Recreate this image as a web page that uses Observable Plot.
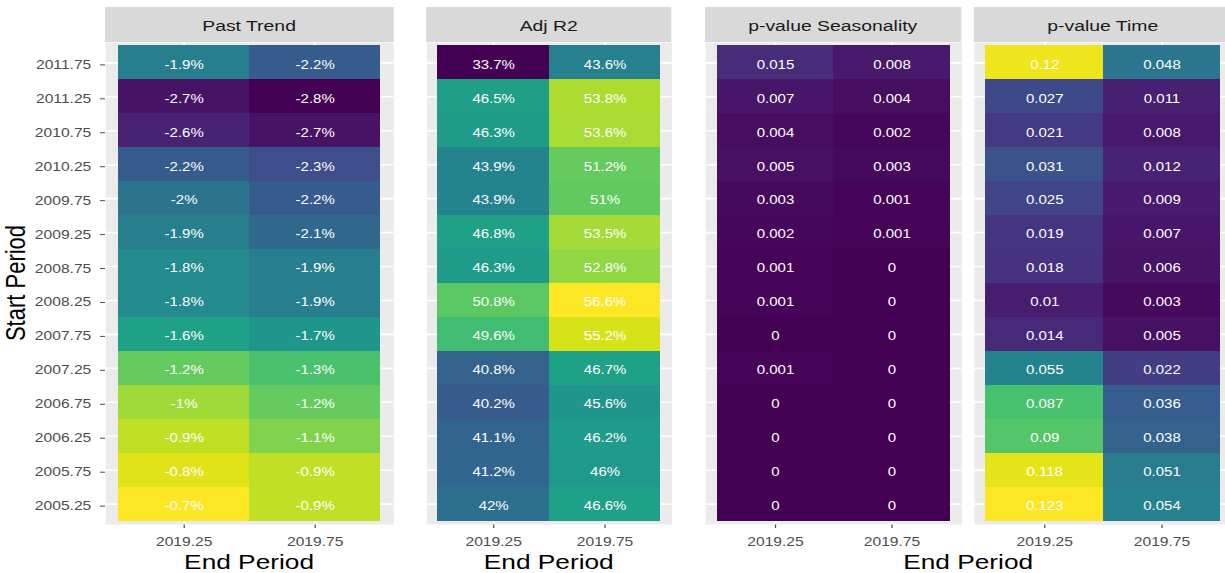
<!DOCTYPE html>
<html><head><meta charset="utf-8">
<script src="https://cdn.jsdelivr.net/npm/d3@7"></script>
<script src="https://cdn.jsdelivr.net/npm/@observablehq/plot@0.6"></script>
<style>
html,body{margin:0;padding:0;background:#fff;overflow:hidden;width:1225px;height:573px;}
#stage{position:relative;width:980px;height:573px;transform:scaleX(1.25);transform-origin:0 0;font-family:"Liberation Sans",Arial,Helvetica,sans-serif;overflow:hidden;}
.panel{position:absolute;top:0;}
.strip{position:absolute;top:7px;height:35px;background:#d9d9d9;color:#1a1a1a;font-size:15.5px;display:flex;align-items:center;justify-content:center;box-sizing:border-box;padding-top:3px;white-space:nowrap;overflow:hidden;}
.title{position:absolute;color:#000;font-size:21px;line-height:1;white-space:nowrap;}
.ytitle{position:absolute;color:#000;font-size:22px;line-height:1;white-space:nowrap;writing-mode:vertical-rl;}
</style></head><body><div id="stage"></div>
<script>
// ---- data ----
const startPeriods = ["2011.75","2011.25","2010.75","2010.25","2009.75","2009.25","2008.75","2008.25","2007.75","2007.25","2006.75","2006.25","2005.75","2005.25"];
const endPeriods = ["2019.25","2019.75"];

const pastTrend_2019_25 = [-1.9,-2.7,-2.6,-2.2,-2,-1.9,-1.8,-1.8,-1.6,-1.2,-1,-0.9,-0.8,-0.7];
const pastTrend_2019_75 = [-2.2,-2.8,-2.7,-2.3,-2.2,-2.1,-1.9,-1.9,-1.7,-1.3,-1.2,-1.1,-0.9,-0.9];

const adjR2_2019_25 = [33.7,46.5,46.3,43.9,43.9,46.8,46.3,50.8,49.6,40.8,40.2,41.1,41.2,42];
const adjR2_2019_75 = [43.6,53.8,53.6,51.2,51,53.5,52.8,56.6,55.2,46.7,45.6,46.2,46,46.6];

const pSeason_2019_25 = [0.015,0.007,0.004,0.005,0.003,0.002,0.001,0.001,0,0.001,0,0,0,0];
const pSeason_2019_75 = [0.008,0.004,0.002,0.003,0.001,0.001,0,0,0,0,0,0,0,0];

const pTime_2019_25 = [0.12,0.027,0.021,0.031,0.025,0.019,0.018,0.01,0.014,0.055,0.087,0.09,0.118,0.123];
const pTime_2019_75 = [0.048,0.011,0.008,0.012,0.009,0.007,0.006,0.003,0.005,0.022,0.036,0.038,0.051,0.054];

const panelTitles = ["Past Trend","Adj R2","p-value Seasonality","p-value Time"];

// ---- build ----
function table(a, b) {
  const out = [];
  startPeriods.forEach((s, i) => {
    out.push({start: s, end: endPeriods[0], value: a[i]});
    out.push({start: s, end: endPeriods[1], value: b[i]});
  });
  return out;
}
const pctFmt = v => `${v}%`;
const numFmt = v => `${v}`;
const pExtent = d3.extent([...pSeason_2019_25, ...pSeason_2019_75, ...pTime_2019_25, ...pTime_2019_75]);

const panels = [
  {title: panelTitles[0], data: table(pastTrend_2019_25, pastTrend_2019_75), fmt: pctFmt,
   domain: d3.extent([...pastTrend_2019_25, ...pastTrend_2019_75]), left: 84, right: 314.5, yAxis: true},
  {title: panelTitles[1], data: table(adjR2_2019_25, adjR2_2019_75), fmt: pctFmt,
   domain: d3.extent([...adjR2_2019_25, ...adjR2_2019_75]), left: 341, right: 537, yAxis: false},
  {title: panelTitles[2], data: table(pSeason_2019_25, pSeason_2019_75), fmt: numFmt,
   domain: pExtent, left: 563.7, right: 768.7, yAxis: false},
  {title: panelTitles[3], data: table(pTime_2019_25, pTime_2019_75), fmt: numFmt,
   domain: pExtent, left: 779, right: 985.4, yAxis: false}
];

const stage = document.getElementById("stage");
const FONT = '"Liberation Sans", Arial, Helvetica, sans-serif';
const hasAxisMarks = typeof Plot.axisY === "function";

for (const p of panels) {
  const svgLeft = p.yAxis ? 0 : p.left - 10;
  const marginLeft = p.left - svgLeft;
  const width = p.right - svgLeft + 10;
  const yAxisMark = (p.yAxis && hasAxisMarks)
    ? [Plot.axisY({tickSize: 4, tickPadding: 7.5, dy: 2, label: null, fontSize: 12.5})]
    : [];
  const chart = Plot.plot({
    width, height: 573,
    marginLeft, marginRight: 10, marginTop: 42, marginBottom: 49,
    x: {type: "band", domain: endPeriods, paddingInner: 0, paddingOuter: 0.1, round: false, tickSize: 4, tickPadding: 9, label: null},
    y: {type: "band", domain: startPeriods, paddingInner: 0, paddingOuter: 0.1, round: false,
        axis: (p.yAxis && !hasAxisMarks) ? "left" : null, tickSize: 4, tickPadding: 7.5, label: null},
    color: {type: "linear", scheme: "viridis", domain: p.domain},
    style: {background: "transparent", color: "#4d4d4d", fontSize: "12.5px", fontFamily: FONT, overflow: "visible"},
    marks: [
      Plot.frame({fill: "#ebebeb", stroke: null}),
      Plot.ruleX(endPeriods, {x: d => d, stroke: "white", strokeWidth: 1.6}),
      Plot.ruleY(startPeriods, {y: d => d, stroke: "white", strokeWidth: 1.6}),
      Plot.cell(p.data, {x: "end", y: "start", fill: "value", inset: 0, shapeRendering: "crispEdges"}),
      Plot.text(p.data, {x: "end", y: "start", text: d => p.fmt(d.value), fill: "white", fontSize: 12, dy: 2, fontFamily: FONT}),
      ...yAxisMark
    ]
  });
  chart.classList.add("panel");
  chart.style.left = svgLeft + "px";
  chart.style.position = "absolute";
  chart.style.top = "0px";
  chart.style.maxWidth = "none";
  stage.appendChild(chart);

  const strip = document.createElement("div");
  strip.className = "strip";
  strip.style.left = p.left + "px";
  strip.style.width = (p.right - p.left) + "px";
  strip.textContent = p.title;
  stage.appendChild(strip);
}

function addTitle(text, cx, top) {
  const d = document.createElement("div");
  d.className = "title";
  d.textContent = text;
  d.style.top = top + "px";
  d.style.left = cx + "px";
  d.style.transform = "translateX(-50%)";
  stage.appendChild(d);
}
addTitle("End Period", (panels[0].left + panels[0].right) / 2, 551);
addTitle("End Period", (panels[1].left + panels[1].right) / 2, 551);
addTitle("End Period", (panels[2].left + panels[3].right) / 2, 551);

const yt = document.createElement("div");
yt.className = "ytitle";
yt.textContent = "Start Period";
yt.style.left = "1.5px";
yt.style.top = "283px";
yt.style.transform = "translateY(-50%) rotate(180deg)";
stage.appendChild(yt);
</script>
</body></html>
